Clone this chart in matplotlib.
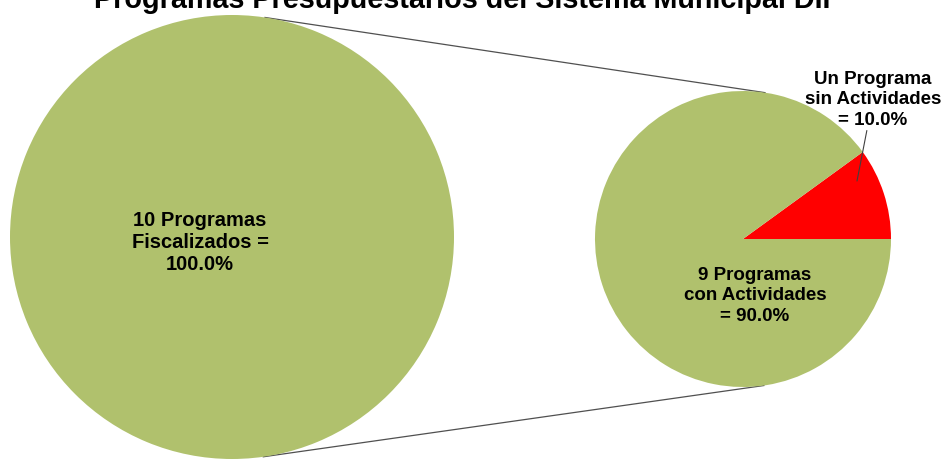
import numpy as np
import matplotlib.pyplot as plt

plt.rcParams['font.family'] = ['Liberation Sans', 'DejaVu Sans']

W, H = 941, 464

titulo = "Programas Presupuestarios del Sistema Municipal DIF"

total_labels = ["10 Programas\nFiscalizados =\n100.0%"]
total_values = [10]

detail_labels = ["Un Programa\nsin Actividades\n= 10.0%",
                 "9 Programas\ncon Actividades\n= 90.0%"]
detail_values = [1, 9]

verde = "#b0c16d"
rojo = "#ff0000"

# pie geometry in pixels (y up)
big_c, big_r = np.array([232.0, H - 238.0]), 222.0
small_c, small_r = np.array([743.0, H - 240.0]), 148.0

fig = plt.figure(figsize=(W / 100, H / 100), dpi=100)
ax = fig.add_axes([0, 0, 1, 1])

ax.pie(total_values, colors=[verde], center=tuple(big_c), radius=big_r,
       startangle=90, wedgeprops=dict(linewidth=0))
ax.pie(detail_values, colors=[rojo, verde], center=tuple(small_c), radius=small_r,
       startangle=0, wedgeprops=dict(linewidth=0))

# connector lines: external tangents of the two circles
d = small_c - big_c
dist = np.hypot(*d)
u = d / dist
perp = np.array([-u[1], u[0]])
s = (big_r - small_r) / dist
for sign in (1, -1):
    n = s * u + sign * np.sqrt(1 - s ** 2) * perp
    p1 = big_c + big_r * n
    p2 = small_c + small_r * n
    ax.plot([p1[0], p2[0]], [p1[1], p2[1]], color="#505050", lw=0.9, zorder=0)

ax.text(200, H - 243, total_labels[0], ha='center', va='center',
        fontsize=14.5, fontweight='bold', linespacing=1.2)
ax.text(755, H - 296, detail_labels[1], ha='center', va='center',
        fontsize=13.5, fontweight='bold', linespacing=1.25)
ax.annotate(detail_labels[0], xy=(857, H - 182), xytext=(873, H - 100),
            ha='center', va='center', fontsize=13.5, fontweight='bold',
            linespacing=1.25,
            arrowprops=dict(arrowstyle='-', color='#404040', lw=0.8,
                            shrinkA=0, shrinkB=0))

# title sits partly above the top edge, as in the source image
fig.text(467 / W, 1 - 8 / H, titulo, ha='center', va='baseline',
         fontsize=20.7, fontweight='bold')

ax.set_xlim(0, W)
ax.set_ylim(0, H)
ax.set_aspect('equal')
ax.axis('off')

fig.savefig('out.png', dpi=100)
